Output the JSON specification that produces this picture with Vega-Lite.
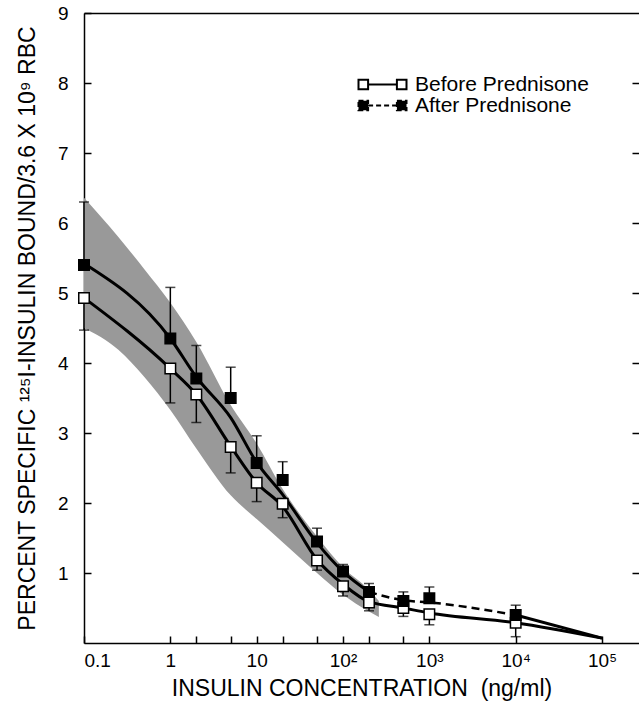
{
  "$schema": "https://vega.github.io/schema/vega-lite/v6.json",
  "width": 555,
  "height": 630,
  "autosize": {"type": "none"},
  "padding": {"left": 84, "top": 13, "right": 0, "bottom": 58},
  "config": {
    "view": {"stroke": null},
    "font": "Liberation Sans",
    "axis": {"grid": false, "domainColor": "black", "domainWidth": 1.5, "tickColor": "black", "tickWidth": 1.5, "labelColor": "black", "titleColor": "black", "labelFont": "Liberation Sans", "titleFont": "Liberation Sans", "titleFontWeight": "normal"},
    "legend": {"title": null, "orient": "none", "legendX": 288, "legendY": 61, "padding": 0,
      "symbolSize": 144, "symbolType": "M-4,-0.8H-2.4V0.8H-4Z M2.4,-0.8H4V0.8H2.4Z M-2.4,0H2.4",
      "symbolStrokeColor": "black", "symbolStrokeWidth": 2,
      "labelFont": "Liberation Sans", "labelFontSize": 21, "labelColor": "black", "labelOffset": 22, "labelLimit": 400, "rowPadding": -3}
  },
  "datasets": {
    "points": [
      {"x": 0.1, "series": "Before Prednisone", "y": 4.93, "err": 4.47},
      {"x": 1, "series": "Before Prednisone", "y": 3.92, "err": 3.43},
      {"x": 2, "series": "Before Prednisone", "y": 3.55, "err": 3.15},
      {"x": 5, "series": "Before Prednisone", "y": 2.80, "err": 2.43},
      {"x": 10, "series": "Before Prednisone", "y": 2.29, "err": 2.02},
      {"x": 20, "series": "Before Prednisone", "y": 1.99, "err": 1.79},
      {"x": 50, "series": "Before Prednisone", "y": 1.18, "err": 1.04},
      {"x": 100, "series": "Before Prednisone", "y": 0.81, "err": 0.67},
      {"x": 200, "series": "Before Prednisone", "y": 0.58, "err": 0.46},
      {"x": 500, "series": "Before Prednisone", "y": 0.50, "err": 0.38},
      {"x": 1000, "series": "Before Prednisone", "y": 0.41, "err": 0.26},
      {"x": 10000, "series": "Before Prednisone", "y": 0.29, "err": 0.09},
      {"x": 0.1, "series": "After Prednisone", "y": 5.40, "err": 6.30},
      {"x": 1, "series": "After Prednisone", "y": 4.35, "err": 5.08},
      {"x": 2, "series": "After Prednisone", "y": 3.78, "err": 4.25},
      {"x": 5, "series": "After Prednisone", "y": 3.50, "err": 3.94},
      {"x": 10, "series": "After Prednisone", "y": 2.57, "err": 2.96},
      {"x": 20, "series": "After Prednisone", "y": 2.33, "err": 2.59},
      {"x": 50, "series": "After Prednisone", "y": 1.45, "err": 1.64},
      {"x": 100, "series": "After Prednisone", "y": 1.02, "err": 1.12},
      {"x": 200, "series": "After Prednisone", "y": 0.73, "err": 0.85},
      {"x": 500, "series": "After Prednisone", "y": 0.60, "err": 0.73},
      {"x": 1000, "series": "After Prednisone", "y": 0.64, "err": 0.80},
      {"x": 10000, "series": "After Prednisone", "y": 0.40, "err": 0.54}
    ],
    "curves": [
      {"x": 0.1, "series": "Before Prednisone", "y": 4.93},
      {"x": 1, "series": "Before Prednisone", "y": 3.92},
      {"x": 2, "series": "Before Prednisone", "y": 3.55},
      {"x": 5, "series": "Before Prednisone", "y": 2.81},
      {"x": 10, "series": "Before Prednisone", "y": 2.29},
      {"x": 20, "series": "Before Prednisone", "y": 1.95},
      {"x": 50, "series": "Before Prednisone", "y": 1.19},
      {"x": 100, "series": "Before Prednisone", "y": 0.84},
      {"x": 200, "series": "Before Prednisone", "y": 0.59},
      {"x": 500, "series": "Before Prednisone", "y": 0.50},
      {"x": 1000, "series": "Before Prednisone", "y": 0.43},
      {"x": 10000, "series": "Before Prednisone", "y": 0.29},
      {"x": 100000, "series": "Before Prednisone", "y": 0.07},
      {"x": 0.1, "series": "After Prednisone", "y": 5.42},
      {"x": 1, "series": "After Prednisone", "y": 4.35},
      {"x": 2, "series": "After Prednisone", "y": 3.80},
      {"x": 5, "series": "After Prednisone", "y": 3.22},
      {"x": 10, "series": "After Prednisone", "y": 2.58},
      {"x": 20, "series": "After Prednisone", "y": 2.12},
      {"x": 50, "series": "After Prednisone", "y": 1.43},
      {"x": 100, "series": "After Prednisone", "y": 1.02},
      {"x": 200, "series": "After Prednisone", "y": 0.73},
      {"x": 500, "series": "After Prednisone", "y": 0.61},
      {"x": 1000, "series": "After Prednisone", "y": 0.58},
      {"x": 10000, "series": "After Prednisone", "y": 0.40},
      {"x": 100000, "series": "After Prednisone", "y": 0.07}
    ],
    "band": [
      {"x": 0.1, "lo": 4.50, "hi": 6.36},
      {"x": 0.25, "lo": 4.19, "hi": 5.80},
      {"x": 0.5, "lo": 3.80, "hi": 5.34},
      {"x": 1, "lo": 3.33, "hi": 4.86},
      {"x": 2, "lo": 2.78, "hi": 4.30},
      {"x": 5, "lo": 2.11, "hi": 3.40},
      {"x": 10, "lo": 1.77, "hi": 2.85},
      {"x": 20, "lo": 1.44, "hi": 2.20},
      {"x": 50, "lo": 1.00, "hi": 1.52},
      {"x": 100, "lo": 0.69, "hi": 1.08},
      {"x": 200, "lo": 0.45, "hi": 0.76},
      {"x": 260, "lo": 0.37, "hi": 0.60}
    ]
  },
  "resolve": {"axis": {"x": "independent", "y": "independent"}},
  "layer": [
    {
      "encoding": {
        "x": {"field": "x", "type": "quantitative", "scale": {"type": "log", "domain": [0.1, 268000], "nice": false},
          "axis": {"orient": "bottom", "title": "INSULIN CONCENTRATION \u00a0(ng/ml)", "titleFontSize": 23, "titlePadding": 7,
            "values": [0.1, 1, 2, 5, 10, 20, 50, 100, 200, 500, 1000, 10000, 100000],
            "labelExpr": "datum.value == 0.1 ? '0.1' : datum.value == 1 ? '1' : datum.value == 10 ? '10' : datum.value == 100 ? '10\u00b2' : datum.value == 1000 ? '10\u00b3' : datum.value == 10000 ? '10\u2074' : datum.value == 100000 ? '10\u2075' : ''",
            "labelFontSize": 19, "labelFlush": true, "labelPadding": 15, "tickSize": -7, "labelOverlap": false}},
        "y": {"field": "y", "type": "quantitative", "scale": {"domain": [0, 9], "nice": false},
          "axis": {"orient": "left", "title": "PERCENT SPECIFIC \u00b9\u00b2\u2075I-INSULIN BOUND/3.6 X 10\u2079 RBC", "titleFontSize": 23, "titlePadding": 18,
            "values": [1, 2, 3, 4, 5, 6, 7, 8, 9], "labelFontSize": 19, "labelPadding": 23, "tickSize": -7}}
      },
      "layer": [
        {
          "data": {"name": "band"},
          "mark": {"type": "area", "interpolate": "monotone", "color": "#999999"},
          "encoding": {
            "y": {"field": "lo", "type": "quantitative", "title": "PERCENT SPECIFIC \u00b9\u00b2\u2075I-INSULIN BOUND/3.6 X 10\u2079 RBC"},
            "y2": {"field": "hi"}
          }
        },
        {
          "data": {"name": "curves"},
          "transform": [{"filter": "datum.series == 'Before Prednisone'"}],
          "mark": {"type": "line", "interpolate": "monotone", "color": "black", "strokeWidth": 3}
        },
        {
          "data": {"name": "curves"},
          "transform": [{"filter": "datum.series == 'After Prednisone' && datum.x <= 200"}],
          "mark": {"type": "line", "interpolate": "monotone", "color": "black", "strokeWidth": 3}
        },
        {
          "data": {"name": "curves"},
          "transform": [{"filter": "datum.series == 'After Prednisone' && datum.x >= 200 && datum.x <= 10000"}],
          "mark": {"type": "line", "interpolate": "monotone", "color": "black", "strokeWidth": 2.5, "strokeDash": [8, 5]}
        },
        {
          "data": {"name": "curves"},
          "transform": [{"filter": "datum.series == 'After Prednisone' && datum.x >= 10000"}],
          "mark": {"type": "line", "color": "black", "strokeWidth": 3}
        },
        {
          "data": {"name": "points"},
          "mark": {"type": "rule", "color": "black", "strokeWidth": 1.5},
          "encoding": {"y2": {"field": "err"}}
        },
        {
          "data": {"name": "points"},
          "mark": {"type": "tick", "orient": "horizontal", "color": "black", "size": 10, "thickness": 1.5},
          "encoding": {"y": {"field": "err", "type": "quantitative", "title": "PERCENT SPECIFIC \u00b9\u00b2\u2075I-INSULIN BOUND/3.6 X 10\u2079 RBC"}}
        },
        {
          "data": {"name": "points"},
          "mark": {"type": "point", "shape": "square", "filled": true, "size": 110, "stroke": "black", "strokeWidth": 1.5, "opacity": 1},
          "encoding": {
            "fill": {"field": "series", "type": "nominal",
              "scale": {"domain": ["Before Prednisone", "After Prednisone"], "range": ["white", "black"]},
              "legend": {"symbolType": "M-4,-0.8H-2.4V0.8H-4Z M2.4,-0.8H4V0.8H2.4Z M-2.4,0H2.4"}}
          }
        },
        {
          "data": {"name": "points"},
          "transform": [{"filter": "datum.x < 0"}],
          "mark": {"type": "point", "filled": false, "stroke": "black", "strokeWidth": 2},
          "encoding": {
            "strokeDash": {"field": "series", "type": "nominal",
              "scale": {"domain": ["Before Prednisone", "After Prednisone"], "range": [[1, 0], [5, 3]]},
              "legend": {"symbolType": "M-4,-0.8H-2.4V0.8H-4Z M2.4,-0.8H4V0.8H2.4Z M-2.4,0H2.4"}}
          }
        }
      ]
    },
    {
      "data": {"name": "points"},
      "mark": {"type": "point", "opacity": 0},
      "encoding": {
        "x": {"field": "x", "type": "quantitative", "scale": {"type": "log", "domain": [0.1, 268000], "nice": false},
          "axis": {"orient": "top", "title": null, "labels": false, "ticks": false, "domain": true}},
        "y": {"field": "y", "type": "quantitative", "scale": {"domain": [0, 9], "nice": false},
          "axis": {"orient": "right", "title": null, "labels": false, "domain": false, "values": [1, 2, 3, 4, 5, 6, 7, 8], "tickSize": -7}}
      }
    }
  ]
}
